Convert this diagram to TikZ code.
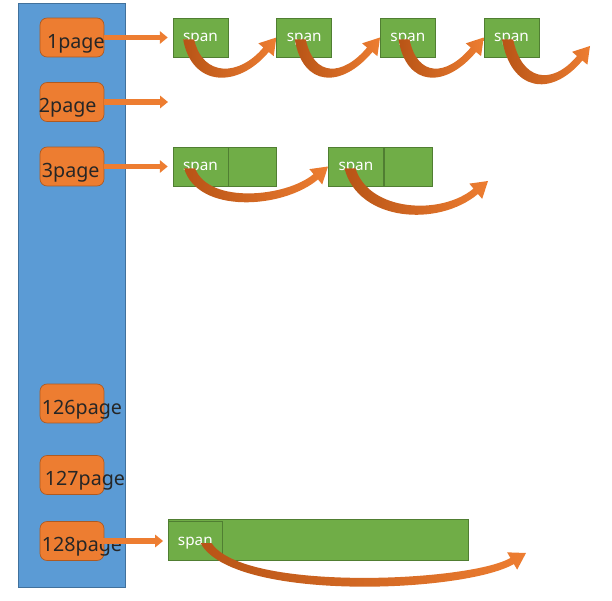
\documentclass[tikz,border=0pt]{standalone}
\usepackage{fontspec}
\setmainfont{Noto Sans}
\usetikzlibrary{positioning, arrows.meta, calc}
\definecolor{colblue}{HTML}{5B9BD5}
\definecolor{colblueln}{HTML}{41719C}
\definecolor{pgorange}{HTML}{ED7D31}
\definecolor{pgorangeln}{HTML}{AE5A21}
\definecolor{pgorangedk}{HTML}{B85416}
\definecolor{spgreen}{HTML}{70AD47}
\definecolor{spgreenln}{HTML}{507E32}
\definecolor{pgtext}{HTML}{262626}

% curved arrow: from node, start offset, tip, depth, head angle
\newcommand\bentarrow[5]{%
  \coordinate (bs) at ($(#1.west)+(#2,2)$);
  \coordinate (bt) at (#3);
  \coordinate (bb) at ($(bt)+({180-#5}:16)$);
  \shade[left color=pgorangedk, right color=pgorange]
    ($(bs)+(-5.5,0)$) .. controls ($(bs)!.1!(bt)+(-5.5,#4)$) and ($(bb)+({90-#5}:3.5)+({180-#5}:#4)$) .. ($(bb)+({90-#5}:3.5)$)
    -- ($(bb)+({90-#5}:10)$) -- (bt) -- ($(bb)+({270-#5}:10)$) -- ($(bb)+({270-#5}:3.5)$)
    .. controls ($(bb)+({270-#5}:3.5)+({180-#5}:#4-10)$) and ($(bs)!.1!(bt)+(5.5,#4-10)$) .. ($(bs)+(5.5,0)$) -- cycle;}

\begin{document}
\begin{tikzpicture}[x=0.02cm, y=-0.02cm,
  pg/.style={draw=pgorangeln, fill=pgorange, rounded corners=4pt, minimum width=1.28cm, minimum height=0.78cm, inner sep=0pt},
  pgtxt/.style={anchor=west, inner sep=0pt, text=pgtext, font=\fontsize{11.2}{13}\selectfont, yshift=-3.4pt},
  sp/.style={draw=spgreenln, fill=spgreen, minimum height=0.78cm, inner sep=0pt, text depth=0pt, text=white, font=\fontsize{8.7}{10}\selectfont},
  blk/.style={pgorange, line width=3.4pt, -{Triangle[length=4.5pt, width=7pt]}, shorten >=2.8pt}]
  \useasboundingbox (0,0) rectangle (612,601);
  \filldraw[fill=colblue, draw=colblueln] (18,3) rectangle (125,587);

  % pages
  \node[pg, label={[pgtxt, xshift=4pt]west:1page}] (p1) at (72,37.5) {};
  \node[pg, label={[pgtxt, xshift=-0.6pt]west:2page}] (p2) at (72,102) {};
  \node[pg, label={[pgtxt, xshift=1.1pt]west:3page}] (p3) at (72,166.5) {};
  \node[pg, label={[pgtxt, xshift=1.1pt]west:126page}] (p126) at (72,403.5) {};
  \node[pg, label={[pgtxt, xshift=2.8pt]west:127page}] (p127) at (72,475) {};
  \node[pg, label={[pgtxt, xshift=1.1pt]west:128page}] (p128) at (72,541) {};

  % spans
  \node[sp, minimum width=1.1cm] (s11) at (200.5,37.5) {span};
  \node[sp, minimum width=1.1cm, right=0.96cm of s11] (s12) {span};
  \node[sp, minimum width=1.1cm, right=0.96cm of s12] (s13) {span};
  \node[sp, minimum width=1.1cm, right=0.96cm of s13] (s14) {span};

  \node[sp, minimum width=1.1cm] (s31) at (200.5,166.5) {span};
  \node[sp, minimum width=0.96cm, right=0pt of s31] (c31) {};
  \node[sp, minimum width=1.1cm, right=1.02cm of c31] (s32) {span};
  \node[sp, minimum width=0.96cm, right=0pt of s32] (c32) {};

  \node[sp, minimum width=6cm, minimum height=0.82cm] (b128) at (318,539.5) {};
  \node[sp, minimum width=1.08cm, anchor=west] (s128) at (168,541) {span};

  \coordinate (e2) at (168,102);
  \coordinate (e14) at (590,46);
  \coordinate (e32) at (488,181);
  \coordinate (e128) at (526,553);

  \draw[blk] (p1) -- (s11);
  \draw[blk, shorten >=0pt] (p2) -- (e2);
  \draw[blk] (p3) -- (s31);
  \draw[blk] ($(p128.east)+(-4,0)$) -- (s128);

  \bentarrow{s11}{16}{s12.west}{48}{50}
  \bentarrow{s12}{24}{s13.west}{48}{50}
  \bentarrow{s13}{24}{s14.west}{48}{50}
  \bentarrow{s14}{24}{e14}{50}{50}
  \bentarrow{s31}{17}{s32.west}{46}{40}
  \bentarrow{s32}{22}{e32}{52}{40}
  \bentarrow{s128}{38}{e128}{58}{30}
\end{tikzpicture}
\end{document}
